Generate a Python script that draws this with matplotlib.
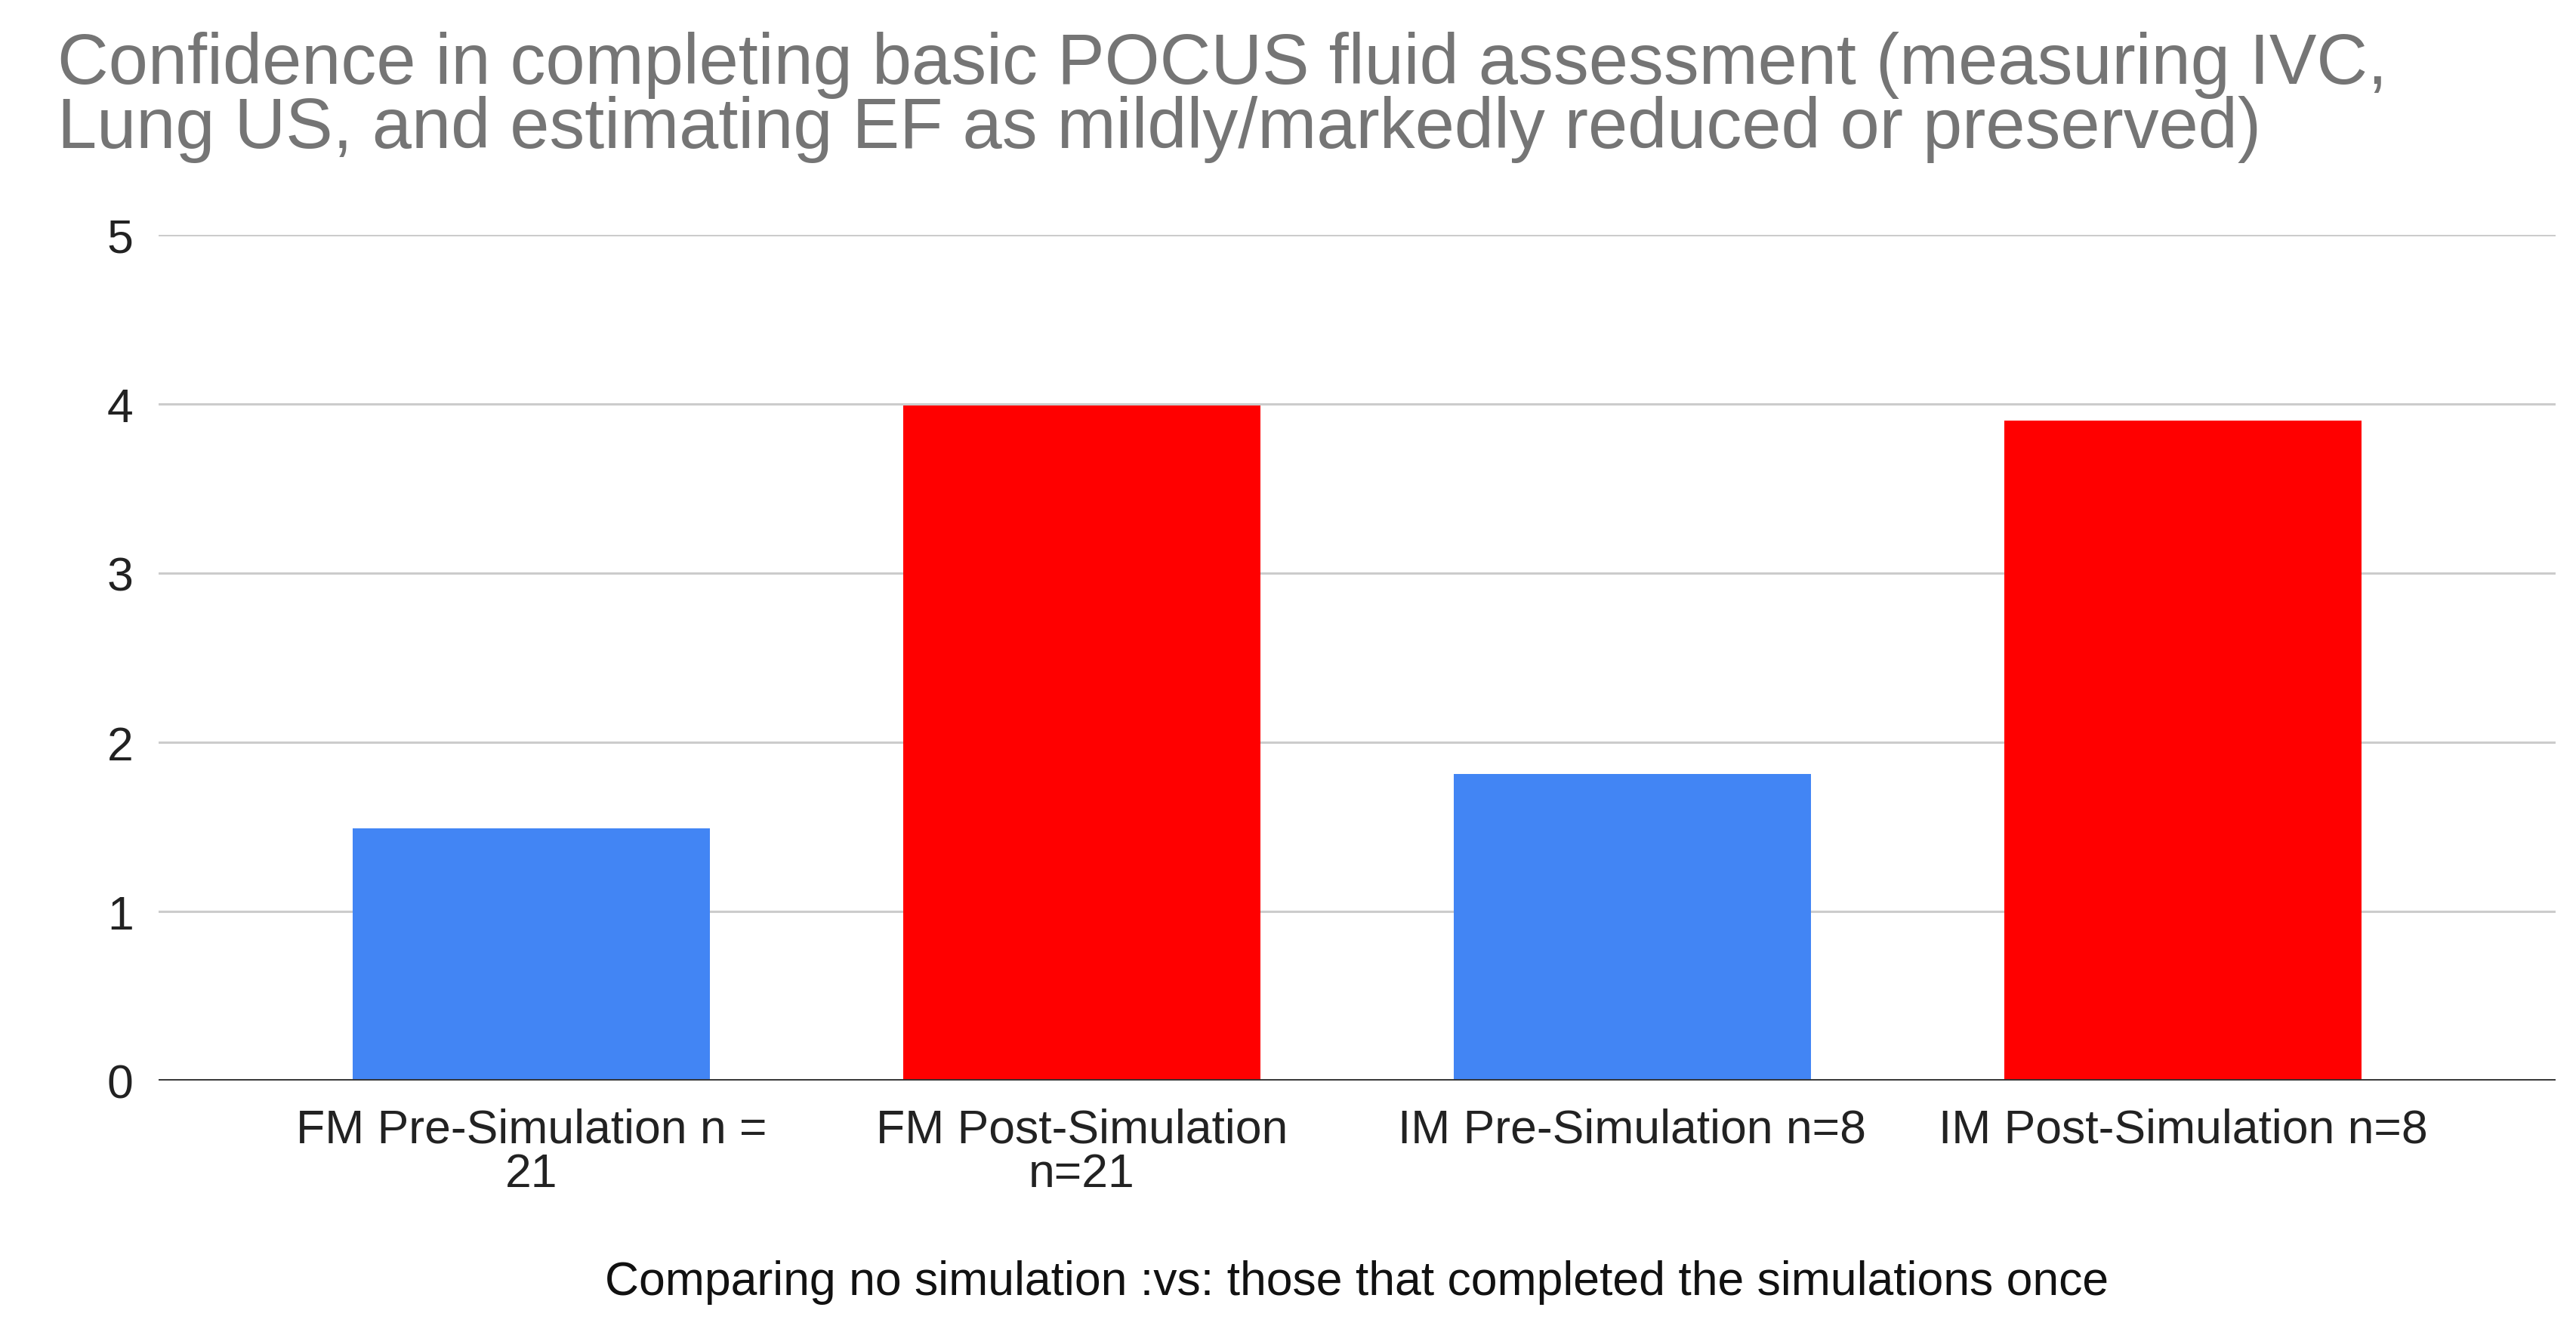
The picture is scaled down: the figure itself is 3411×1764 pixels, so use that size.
import matplotlib

matplotlib.use("Agg")
import matplotlib.pyplot as plt  # noqa: E402

# values
categories = ["FM Pre-Simulation n =\n21", "FM Post-Simulation\nn=21",
              "IM Pre-Simulation n=8", "IM Post-Simulation n=8"]
scores = [1.49, 3.99, 1.81, 3.9]
bar_colors = ["#4285F4", "#FF0000", "#4285F4", "#FF0000"]
y_ticks = [0, 1, 2, 3, 4, 5]

TITLE = ("Confidence in completing basic POCUS fluid assessment (measuring IVC,\n"
         "Lung US, and estimating EF as mildly/markedly reduced or preserved)")
XLABEL = "Comparing no simulation :vs: those that completed the simulations once"

plt.rcParams["font.family"] = ["Liberation Sans", "DejaVu Sans"]

W, H, DPI = 3411, 1765, 100
fig = plt.figure(figsize=(W / DPI, H / DPI), dpi=DPI)
ax = fig.add_axes([210 / W, 1 - 1431.5 / H, (3384 - 210) / W, (1431.5 - 312) / H])

x = range(len(categories))
ax.bar(x, scores, width=0.648, color=bar_colors, zorder=3)

ax.set_xlim(-0.677, len(categories) - 1 + 0.677)
ax.set_ylim(0, 5)
ax.set_yticks(y_ticks)
ax.set_xticks(list(x))
ax.set_xticklabels(categories, fontsize=45, color="#222222", linespacing=0.98)
ax.tick_params(axis="y", labelsize=45, labelcolor="#222222", length=0, pad=24)
ax.tick_params(axis="x", length=0, pad=26)

ax.grid(axis="y", color="#cccccc", linewidth=2.2, zorder=0)
for s in ax.spines.values():
    s.set_visible(False)
ax.axhline(0, color="#333333", linewidth=3.5, zorder=4)

fig.text(76 / W, 1 - 42 / H, TITLE, fontsize=67.5, color="#757575",
         ha="left", va="top", linespacing=0.94)
fig.text(1797 / W, 1 - 1699 / H, XLABEL, fontsize=45, color="#111111",
         ha="center", va="center")

fig.savefig("out.png", dpi=DPI, facecolor="white")
